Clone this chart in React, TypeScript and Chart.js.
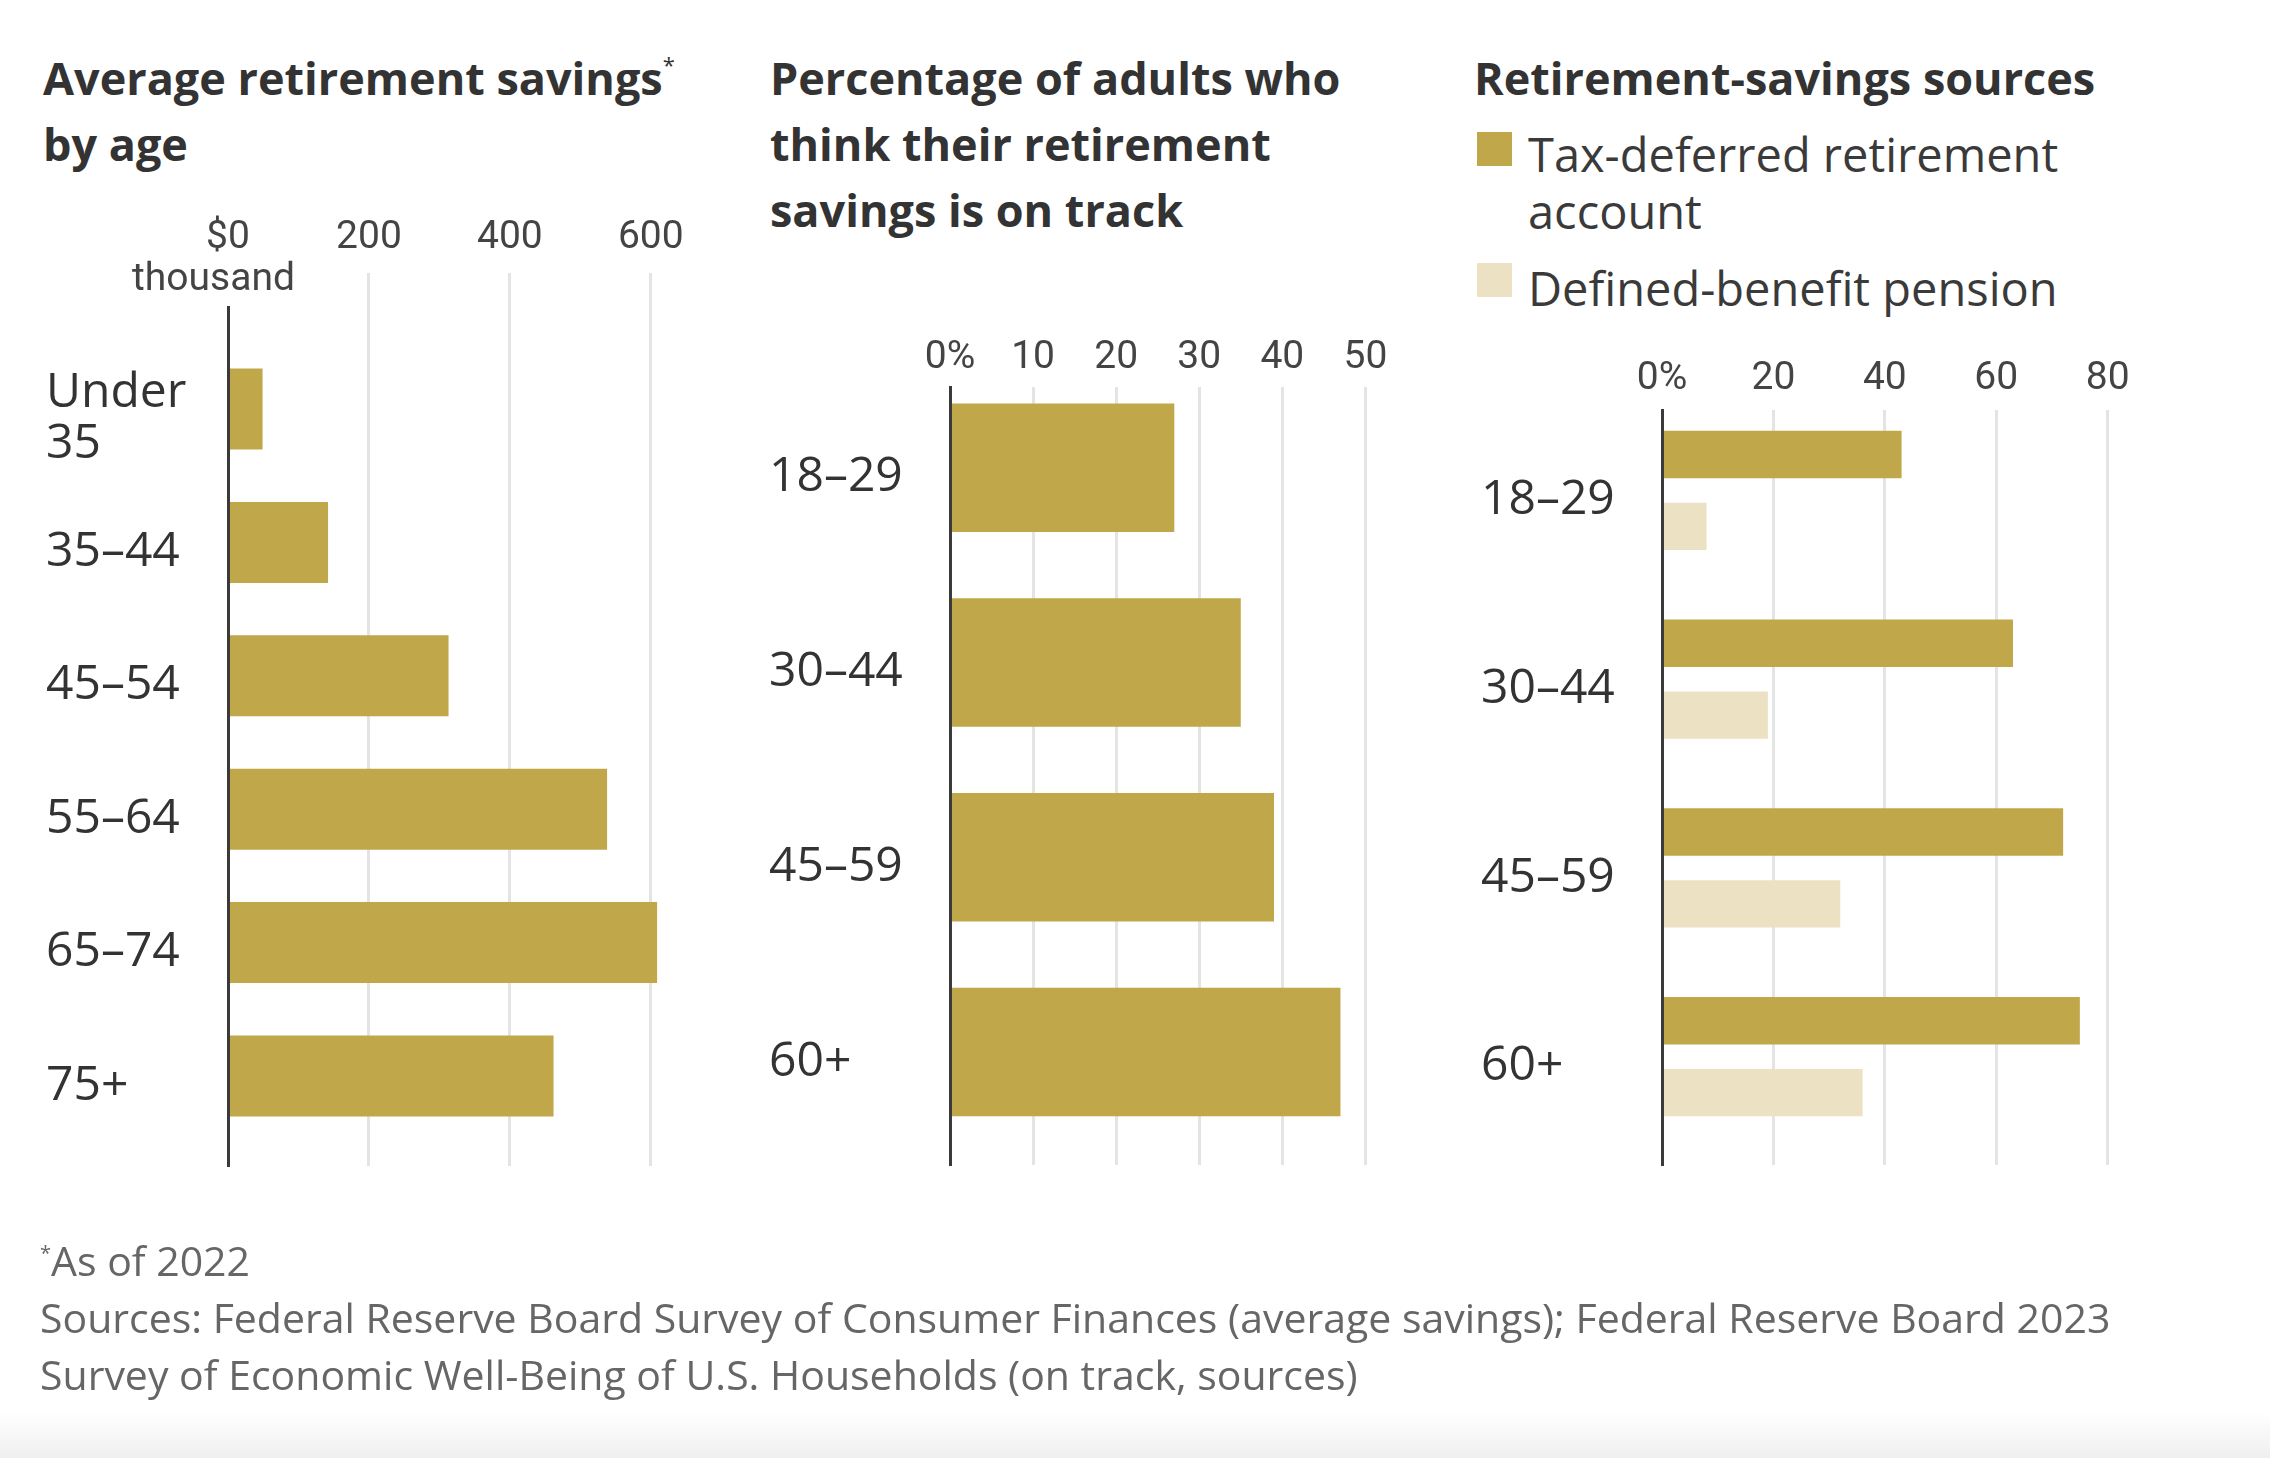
import React, { useEffect, useRef } from 'react';
import { Chart, registerables } from 'chart.js';

Chart.register(...registerables);

const GOLD = '#c0a74a';
const LIGHT = '#ece2c3';
const GRID = '#e4e4e4';

// Panel 1: average retirement savings by age (thousand $, as of 2022)
const ageGroups1: (string | string[])[] = [['Under', '35'], '35–44', '45–54', '55–64', '65–74', '75+'];
const avgSavings = [49, 142, 313, 538, 609, 462];
const savingsTicks = [0, 200, 400, 600];
const savingsTickLabels: (string | string[])[] = [['$0', 'thousand   '], '200', '400', '600'];

// Panel 2: share of adults who think retirement savings is on track (%)
const ageGroups2 = ['18–29', '30–44', '45–59', '60+'];
const onTrack = [27, 35, 39, 47];
const onTrackTicks = [0, 10, 20, 30, 40, 50];
const onTrackTickLabels = ['0%', '10', '20', '30', '40', '50'];

// Panel 3: retirement-savings sources (%)
const ageGroups3 = ['18–29', '30–44', '45–59', '60+'];
const taxDeferred = [43, 63, 72, 75];
const pension = [8, 19, 32, 36];
const sourceTicks = [0, 20, 40, 60, 80];
const sourceTickLabels = ['0%', '20', '40', '60', '80'];
const seriesNames = ['Tax-deferred retirement account', 'Defined-benefit pension'];

type PanelProps = {
  left: number;
  top: number;
  width: number;
  height: number;
  categories: (string | string[])[];
  datasets: { label: string; values: number[]; color: string }[];
  xMax: number;
  ticks: number[];
  tickLabels: (string | string[])[];
  yMin: number;
  yMax: number;
  axisHeight: number;
  axisWidth: number;
  tickPadding: number;
  tickLength: number;
  tickLineHeight: number;
  barPct: number;
  catPct: number;
};

function Panel(p: PanelProps) {
  const ref = useRef<HTMLCanvasElement>(null);
  useEffect(() => {
    const gridColor = (c: any) => (c.tick && c.tick.value === 0 ? 'rgba(0,0,0,0)' : GRID);
    const chart = new Chart(ref.current as HTMLCanvasElement, {
      type: 'bar',
      data: {
        datasets: p.datasets.map((d) => ({
          label: d.label,
          data: d.values.map((v, i) => ({ x: v, y: i })),
          backgroundColor: d.color,
          borderWidth: 0,
          barPercentage: p.barPct,
          categoryPercentage: p.catPct,
        })),
      } as any,
      options: {
        indexAxis: 'y',
        responsive: false,
        animation: false,
        layout: { padding: { left: 0, top: 0, right: 40, bottom: 70 } },
        plugins: { legend: { display: false }, tooltip: { enabled: false } },
        scales: {
          x: {
            type: 'linear',
            position: 'top',
            min: 0,
            max: p.xMax,
            offset: false,
            afterBuildTicks: (s: any) => {
              s.ticks = p.ticks.map((v) => ({ value: v }));
            },
            afterFit: (s: any) => {
              s.height = p.axisHeight;
            },
            ticks: {
              callback: (v: any) => {
                const i = p.ticks.indexOf(Number(v));
                return i >= 0 ? p.tickLabels[i] : '';
              },
              font: { family: 'Roboto', size: 39, lineHeight: `${p.tickLineHeight}px` },
              color: '#444',
              padding: p.tickPadding,
              crossAlign: 'far',
              maxRotation: 0,
              minRotation: 0,
              autoSkip: false,
            },
            grid: {
              color: gridColor,
              tickColor: gridColor,
              lineWidth: 3,
              drawTicks: p.tickLength > 0,
              tickLength: p.tickLength,
              offset: false,
            },
            border: { display: false },
          },
          y: {
            type: 'linear',
            reverse: true,
            min: p.yMin,
            max: p.yMax,
            offset: false,
            afterBuildTicks: (s: any) => {
              s.ticks = p.categories.map((_, i) => ({ value: i }));
            },
            afterFit: (s: any) => {
              s.width = p.axisWidth;
            },
            ticks: {
              callback: (v: any) => {
                const c = p.categories[Number(v)];
                return c === undefined ? '' : c;
              },
              font: { family: 'Open Sans', size: 48, lineHeight: '51px' },
              color: '#333',
              crossAlign: 'far',
              padding: 0,
              labelOffset: 10,
              autoSkip: false,
            },
            grid: { display: false, drawTicks: false, offset: false },
            border: { display: true, color: '#3a3a3a', width: 3, z: 1 },
          },
        },
      } as any,
    });
    return () => chart.destroy();
  }, []);
  return (
    <canvas
      ref={ref}
      width={p.width}
      height={p.height}
      style={{ position: 'absolute', left: p.left, top: p.top, width: p.width, height: p.height }}
    />
  );
}

const titleStyle = (left: number): React.CSSProperties => ({
  position: 'absolute',
  left,
  top: 45,
  fontFamily: "'Open Sans', sans-serif",
  fontSize: 45,
  fontWeight: 700,
  lineHeight: '66px',
  color: '#333',
  whiteSpace: 'nowrap',
});

const legendText: React.CSSProperties = {
  position: 'absolute',
  left: 1528,
  fontFamily: "'Open Sans', sans-serif",
  fontSize: 47,
  lineHeight: '57px',
  color: '#3a3a3a',
  whiteSpace: 'nowrap',
};

const supStyle = (size: number, rise: number): React.CSSProperties => ({
  fontSize: size,
  fontWeight: 400,
  lineHeight: 0,
  position: 'relative',
  top: -rise,
});

export default function App() {
  return (
    <div
      style={{
        position: 'fixed',
        left: 0,
        top: 0,
        width: 2270,
        height: 1458,
        background: '#fff',
        overflow: 'hidden',
        fontFamily: "'Open Sans', sans-serif",
      }}
    >
      <div style={titleStyle(43)}>
        Average retirement savings
        <span style={supStyle(22, 22)}>*</span>
        <br />
        by age
      </div>
      <div style={titleStyle(770)}>
        Percentage of adults who
        <br />
        think their retirement
        <br />
        savings is on track
      </div>
      <div style={titleStyle(1474)}>Retirement-savings sources</div>

      <div style={{ position: 'absolute', left: 1477, top: 132, width: 35, height: 34, background: GOLD }} />
      <div style={{ ...legendText, top: 126 }}>
        Tax-deferred retirement
        <br />
        account
      </div>
      <div style={{ position: 'absolute', left: 1477, top: 263, width: 35, height: 34, background: LIGHT }} />
      <div style={{ ...legendText, top: 260 }}>Defined-benefit pension</div>

      <Panel
        left={46}
        top={190}
        width={680}
        height={1046}
        categories={ageGroups1}
        datasets={[{ label: 'Average retirement savings', values: avgSavings, color: GOLD }]}
        xMax={650}
        ticks={savingsTicks}
        tickLabels={savingsTickLabels}
        yMin={-0.765}
        yMax={5.675}
        axisHeight={117}
        axisWidth={182}
        tickPadding={-28}
        tickLength={34}
        tickLineHeight={42}
        barPct={0.607}
        catPct={1}
      />
      <Panel
        left={769}
        top={300}
        width={653}
        height={935}
        categories={ageGroups2}
        datasets={[{ label: 'On track', values: onTrack, color: GOLD }]}
        xMax={52}
        ticks={onTrackTicks}
        tickLabels={onTrackTickLabels}
        yMin={-0.415}
        yMax={3.58}
        axisHeight={87}
        axisWidth={181}
        tickPadding={9}
        tickLength={0}
        tickLineHeight={40}
        barPct={0.66}
        catPct={1}
      />
      <Panel
        left={1481}
        top={330}
        width={689}
        height={905}
        categories={ageGroups3}
        datasets={[
          { label: seriesNames[0], values: taxDeferred, color: GOLD },
          { label: seriesNames[1], values: pension, color: LIGHT },
        ]}
        xMax={84}
        ticks={sourceTicks}
        tickLabels={sourceTickLabels}
        yMin={-0.426}
        yMax={3.574}
        axisHeight={80}
        axisWidth={181}
        tickPadding={11}
        tickLength={0}
        tickLineHeight={40}
        barPct={0.66}
        catPct={0.762}
      />

      <div
        style={{
          position: 'absolute',
          left: 40,
          top: 1232,
          fontFamily: "'Open Sans', sans-serif",
          fontSize: 41,
          lineHeight: '57px',
          color: '#666',
          whiteSpace: 'nowrap',
        }}
      >
        <span style={supStyle(20, 16)}>*</span>As of 2022
        <br />
        Sources: Federal Reserve Board Survey of Consumer Finances (average savings); Federal Reserve Board 2023
        <br />
        Survey of Economic Well-Being of U.S. Households (on track, sources)
      </div>
      <div
        style={{
          position: 'absolute',
          left: 0,
          top: 1412,
          width: 2270,
          height: 46,
          background: 'linear-gradient(#ffffff, #efefef)',
        }}
      />
    </div>
  );
}
